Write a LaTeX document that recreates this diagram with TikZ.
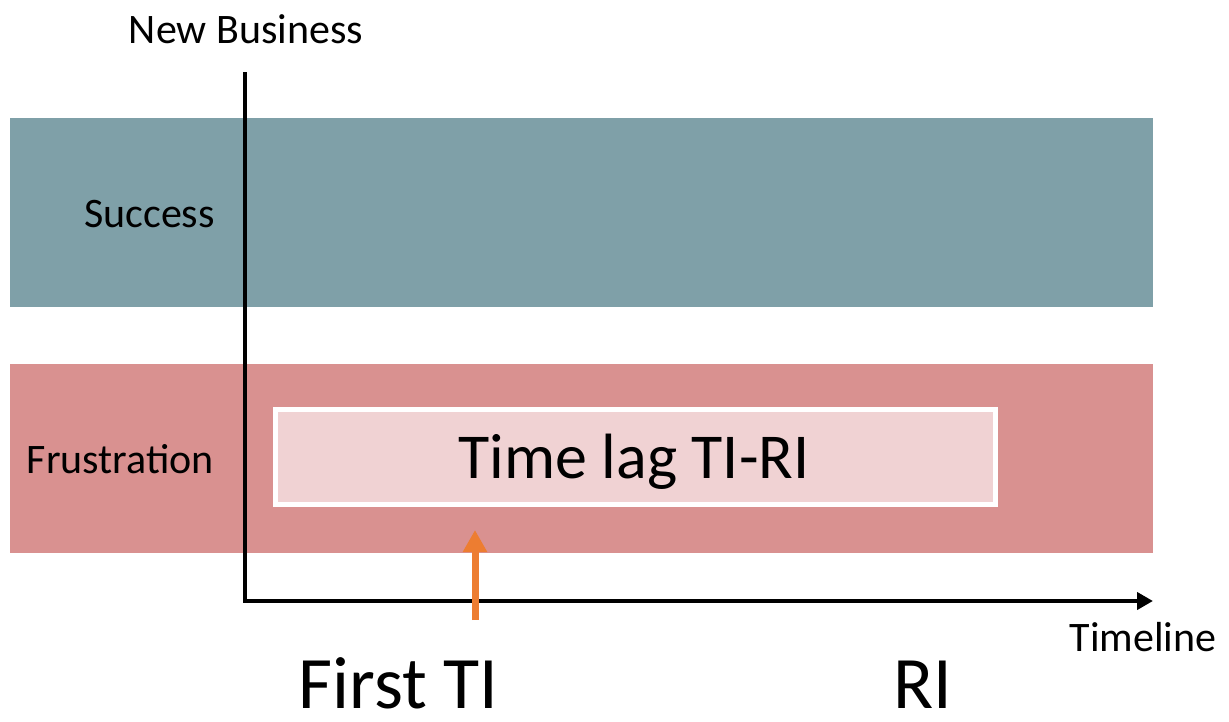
\documentclass[tikz,border=0pt]{standalone}
\usepackage{fontspec}
\setmainfont{Carlito}
\usetikzlibrary{arrows.meta}
\definecolor{bandteal}{HTML}{7FA0A8}
\definecolor{bandred}{HTML}{D99190}
\definecolor{lagfill}{HTML}{F0D2D3}
\definecolor{markorange}{HTML}{ED7D31}
\tikzset{
  label/.style={inner sep=0pt, anchor=base, font=\fontsize{42}{50}\selectfont},
  biglabel/.style={inner sep=0pt, anchor=base, text depth=0pt, font=\fontsize{74}{88}\selectfont},
  axisline/.style={line width=4pt, line join=miter, -{Triangle[length=16pt,width=17pt]}},
  marker/.style={markorange, line width=7pt, -{Triangle[length=22pt,width=23pt]}},
}
\begin{document}
\begin{tikzpicture}[x=1pt, y=-1pt]
  \useasboundingbox (0,0) rectangle (1229,721);
  % outcome bands
  \fill[bandteal] (10,118) rectangle (1153,307);
  \fill[bandred] (10,364) rectangle (1153,553);
  % time lag box
  \node[draw=white, line width=5pt, fill=lagfill, minimum width=720pt, minimum height=95pt,
        inner sep=0pt] (lag) at (635.5,456.5) {};
  \node[inner sep=0pt, anchor=base, font=\fontsize{64}{76}\selectfont] (lagtext) at (634,478) {Time lag TI-RI};
  % axes
  \coordinate (ytop) at (245,72);
  \coordinate (origin) at (245,601);
  \coordinate (xend) at (1153,601);
  \draw[axisline] (ytop) -- (origin) -- (xend);
  % marker for the first TI
  \coordinate (mstart) at (475,620);
  \coordinate (mtip) at (475,530);
  \draw[marker] (mstart) -- (mtip);
  % labels
  \node[label] (nb) at (246,43) {New Business};
  \node[label] (succ) at (149.5,227) {Success};
  \node[label] (frus) at (120.5,473) {Frustration};
  \node[label] (tl) at (1143,651) {Timeline};
  \node[biglabel] (fti) at (398.5,708) {First TI};
  \node[biglabel] (ri) at (922.5,708) {RI};
\end{tikzpicture}
\end{document}
